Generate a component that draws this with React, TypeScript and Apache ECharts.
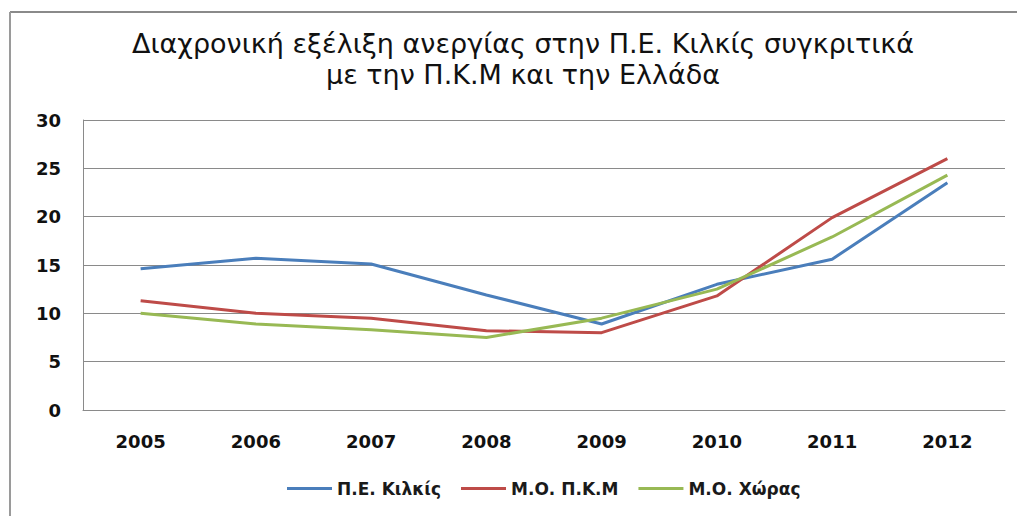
import React, { useEffect, useRef } from "react";
import * as echarts from "echarts";

const years = ["2005", "2006", "2007", "2008", "2009", "2010", "2011", "2012"];
const kilkis = [14.6, 15.7, 15.1, 11.9, 8.9, 13.0, 15.6, 23.5];
const pkm = [11.3, 10.0, 9.5, 8.2, 8.0, 11.8, 19.9, 26.0];
const xoras = [10.0, 8.9, 8.3, 7.5, 9.5, 12.5, 17.9, 24.3];
const seriesNames = ["Π.Ε. Κιλκίς", "Μ.Ο. Π.Κ.Μ", "Μ.Ο. Χώρας"];
const colors = ["#4a7ebb", "#be4b48", "#98b954"];
const titleText = "Διαχρονική εξέλιξη ανεργίας στην Π.Ε. Κιλκίς συγκριτικά\nμε την Π.Κ.Μ και την Ελλάδα";

export default function App() {
  const ref = useRef<HTMLDivElement>(null);
  useEffect(() => {
    if (!ref.current) return;
    const chart = echarts.init(ref.current, null, { renderer: "svg" });
    const font = "'DejaVu Sans', sans-serif";
    const data = [kilkis, pkm, xoras];
    chart.setOption({
      animation: false,
      backgroundColor: "#ffffff",
      textStyle: { fontFamily: font },
      title: {
        text: titleText,
        left: 518,
        top: 23,
        textAlign: "center",
        textStyle: {
          fontFamily: font,
          fontSize: 27,
          fontWeight: "normal",
          color: "#111111",
          lineHeight: 31,
        },
      },
      graphic: [
        { type: "line", shape: { x1: 10, y1: 12, x2: 1017, y2: 12 }, style: { stroke: "#8a8a8a", lineWidth: 2 } },
        { type: "line", shape: { x1: 10, y1: 12, x2: 10, y2: 516 }, style: { stroke: "#9a9a9a", lineWidth: 2 } },
      ],
      legend: {
        bottom: 14,
        left: 282,
        icon: "rect",
        itemWidth: 45,
        itemHeight: 3,
        itemGap: 20,
        textStyle: { fontFamily: font, fontSize: 17, fontWeight: "bold", color: "#1a1a1a" },
        data: seriesNames,
      },
      grid: { left: 83, right: 12, top: 120, bottom: 106, containLabel: false },
      xAxis: {
        type: "category",
        data: years,
        boundaryGap: true,
        axisLine: { show: true, lineStyle: { color: "#8a8a8a", width: 1 } },
        axisTick: { show: false },
        axisLabel: { fontFamily: font, fontSize: 18, fontWeight: "bold", color: "#111111", margin: 22 },
      },
      yAxis: {
        type: "value",
        min: 0,
        max: 30,
        interval: 5,
        axisLine: { show: true, lineStyle: { color: "#8a8a8a", width: 1 } },
        axisTick: { show: false },
        splitLine: { show: true, lineStyle: { color: "#8a8a8a", width: 1 } },
        axisLabel: { fontFamily: font, fontSize: 18, fontWeight: "bold", color: "#111111", margin: 22 },
      },
      series: seriesNames.map((name, i) => ({
        name,
        type: "line",
        data: data[i],
        symbol: "none",
        lineStyle: { color: colors[i], width: 3 },
        itemStyle: { color: colors[i] },
      })),
    });
    return () => chart.dispose();
  }, []);
  return <div ref={ref} style={{ position: "fixed", left: 0, top: 0, width: 1017, height: 516 }} />;
}
